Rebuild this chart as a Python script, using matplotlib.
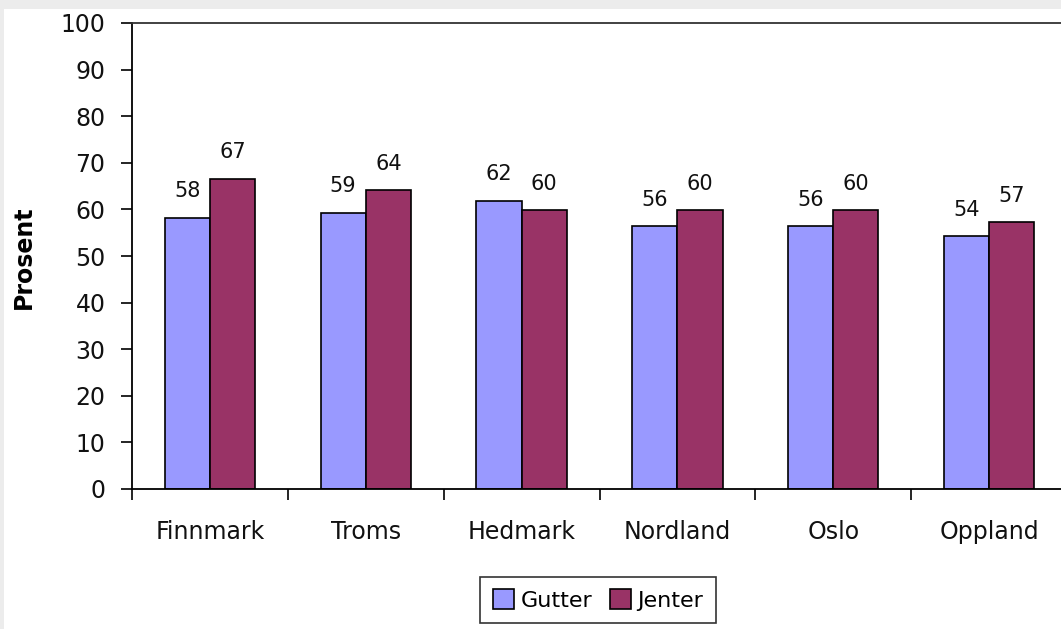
import matplotlib.pyplot as plt
import matplotlib.patches as mpatches
import numpy as np

plt.rcParams['font.family'] = ['DejaVu Sans']

# data
fylker = ['Finnmark', 'Troms', 'Hedmark', 'Nordland', 'Oslo', 'Oppland']
gutter = [58.2, 59.3, 61.8, 56.4, 56.4, 54.2]
jenter = [66.6, 64.1, 59.8, 59.8, 59.8, 57.2]
gutter_lbl = [58, 59, 62, 56, 56, 54]
jenter_lbl = [67, 64, 60, 60, 60, 57]

fig = plt.figure(figsize=(10.61, 6.29), dpi=100, facecolor='#ececec')
# white panel, grey strip on top and left
fig.patches.append(mpatches.Rectangle((4 / 1061, 0), 1, 1 - 9 / 629, transform=fig.transFigure,
                                      facecolor='white', edgecolor='none', zorder=-10))

ax = fig.add_axes([132 / 1061, 1 - 489 / 629, 935 / 1061, 466 / 629])
ax.set_facecolor('white')

x = np.arange(len(fylker))
w = 0.29
b1 = ax.bar(x + 0.5 - w, gutter, w, align='edge', color='#9999ff', edgecolor='black', linewidth=1.2, label='Gutter')
b2 = ax.bar(x + 0.5, jenter, w, align='edge', color='#993366', edgecolor='black', linewidth=1.2, label='Jenter')

for bars, lbls in [(b1, gutter_lbl), (b2, jenter_lbl)]:
    for r, l in zip(bars, lbls):
        ax.annotate(str(l), (r.get_x() + r.get_width() / 2, r.get_height()),
                    xytext=(0, 12), textcoords='offset points', ha='center', va='bottom',
                    fontsize=15, color='#111111')

ax.set_xlim(0, 6)
ax.set_ylim(0, 100)
ax.set_yticks(range(0, 101, 10))
ax.set_xticks(range(0, 7))
ax.set_xticklabels([])
ax.set_xticks(x + 0.5, minor=True)
ax.set_xticklabels(fylker, minor=True)
ax.tick_params(axis='x', which='minor', length=0, pad=22, labelsize=17, labelcolor='#111111')
ax.tick_params(axis='x', which='major', direction='out', length=8, width=1.2)
ax.tick_params(axis='y', direction='out', length=8, width=1.2, pad=11, labelsize=17, labelcolor='#111111')
for s in ax.spines.values():
    s.set_linewidth(1.3)
ax.spines['right'].set_visible(False)
ax.spines['top'].set_color('#333333')

fig.text(24 / 1061, 1 - 257 / 629, 'Prosent', rotation=90, ha='center', va='center',
         fontsize=17, fontweight='bold')

leg = fig.legend(loc='center', bbox_to_anchor=(598 / 1061, 1 - 600 / 629), ncol=2,
                 fontsize=16, frameon=True, fancybox=False, handlelength=0.95, handleheight=0.95,
                 handletextpad=0.3, columnspacing=0.8, borderpad=0.55, borderaxespad=0)
leg.get_frame().set_edgecolor('black')
leg.get_frame().set_linewidth(1.2)

fig.savefig('out.png', dpi=100, facecolor=fig.get_facecolor())
